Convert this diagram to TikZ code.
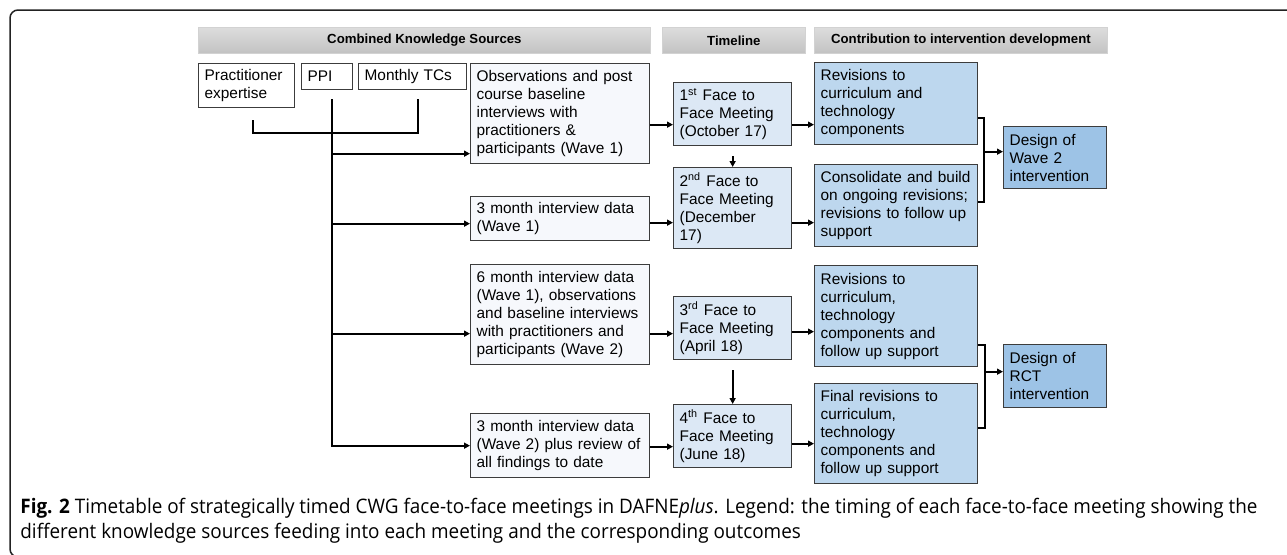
\documentclass[tikz,border=0pt]{standalone}
\usepackage{fontspec}
\setmainfont{Liberation Sans}
\newfontfamily\capfont[FakeStretch=0.945]{Open Sans}
\usepackage{xcolor}
\definecolor{xframe}{HTML}{222222}
\definecolor{xedge}{HTML}{3C3C3C}
\definecolor{xsource}{HTML}{F6F8FC}
\definecolor{xmeet}{HTML}{DCE8F5}
\definecolor{xcontrib}{HTML}{BDD7EE}
\definecolor{xdesign}{HTML}{9DC3E6}
\definecolor{xheadtop}{HTML}{DDDDDD}
\definecolor{xheadbot}{HTML}{C2C2C2}
\usepackage{tikz}
\usetikzlibrary{arrows.meta, positioning}
\tikzset{
  %% Styles %%
  box/.style = {draw=xedge, line width=0.65pt, fill=#1, anchor=north west, align=left,
    inner xsep=3pt, inner ysep=1pt, font=\fontsize{7.7}{9}\selectfont},
  knowbox/.style = {box=white},
  sourcebox/.style = {box=xsource, text width=83.5pt, minimum height=#1},
  meetbox/.style = {box=xmeet, text width=53pt, minimum height=#1},
  contribbox/.style = {box=xcontrib, text width=75.5pt, minimum height=#1},
  designbox/.style = {box=xdesign, text width=45.5pt, minimum height=#1},
  head/.style = {anchor=north west, draw=gray!35, top color=xheadtop, bottom color=xheadbot,
    minimum height=13pt, inner sep=0pt, font=\fontsize{6.6}{8}\selectfont\bfseries},
  frame/.style = {draw=xframe, line width=0.75pt, rounded corners=4pt},
  wire/.style = {line width=1.1pt, black},
  arrow/.style = {wire, -{Triangle[length=3pt, width=3pt]}},
  caption/.style = {anchor=north west, align=left, inner sep=0pt, font=\capfont\fontsize{10}{12.5}\selectfont},
}

\begin{document}
\begin{tikzpicture}[x=0.5pt, y=-0.5pt]
  \useasboundingbox (0,0) rectangle (1287,554);
  % Frame
  \draw[frame] (1300,10) -| (10,557) -- (40,557);

  % Headers
  \node[head, minimum width=226pt] (hks) at (198,27) {Combined Knowledge Sources};
  \node[head, minimum width=71.5pt] (htl) at (662,27) {Timeline};
  \node[head, minimum width=146.5pt] (hcon) at (814,27) {Contribution to intervention development};

  % Knowledge sources
  \node[knowbox, text width=42pt, minimum height=22pt] (prac) at (198,63) {Practitioner\\expertise};
  \node[knowbox, text width=19.5pt, minimum height=13pt] (ppi) at (301,63) {PPI};
  \node[knowbox, text width=48pt, minimum height=13pt] (tcs) at (358,63) {Monthly TCs};

  \node[sourcebox=50pt] (obs) at (470,63) {Observations and post\\course baseline\\interviews with\\practitioners \&\\participants (Wave 1)};
  \node[sourcebox=22pt] (m3a) at (470,196) {3 month interview data\\(Wave 1)};
  \node[sourcebox=50pt] (m6) at (470,264) {6 month interview data\\(Wave 1), observations\\and baseline interviews\\with practitioners and\\participants (Wave 2)};
  \node[sourcebox=32pt] (m3b) at (470,413) {3 month interview data\\(Wave 2) plus review of\\all findings to date};

  % Timeline
  \node[meetbox=31.5pt] (f1) at (673,82) {1\textsuperscript{st} Face to\\Face Meeting\\(October 17)};
  \node[meetbox=40.5pt] (f2) at (673,167) {2\textsuperscript{nd} Face to\\Face Meeting\\(December\\17)};
  \node[meetbox=31.5pt] (f3) at (673,296) {3\textsuperscript{rd} Face to\\Face Meeting\\(April 18)};
  \node[meetbox=31.5pt] (f4) at (673,404) {4\textsuperscript{th} Face to\\Face Meeting\\(June 18)};

  % Contributions
  \node[contribbox=41pt] (r1) at (814,62) {Revisions to\\curriculum and\\technology\\components};
  \node[contribbox=41pt] (r2) at (814,164) {Consolidate and build\\on ongoing revisions;\\revisions to follow up\\support};
  \node[contribbox=50.5pt] (r3) at (814,265) {Revisions to\\curriculum,\\technology\\components and\\follow up support};
  \node[contribbox=50pt] (r4) at (814,383) {Final revisions to\\curriculum,\\technology\\components and\\follow up support};

  \node[designbox=31pt] (dw2) at (1003,126) {Design of\\Wave 2\\intervention};
  \node[designbox=31.5pt] (drct) at (1003,344) {Design of\\RCT\\intervention};

  % Knowledge source wires
  \coordinate (pracend) at ([xshift=3pt, yshift=-6pt]prac.south);
  \coordinate (tcsend) at ([xshift=2.5pt, yshift=-4.5pt]tcs.south);
  \coordinate (ppitop) at ([xshift=2.25pt, yshift=-4.5pt]ppi.south);
  \draw[wire] (pracend) -- ++(0,13) -| (tcsend);
  \draw[arrow] (ppitop) |- (m3b.west);
  \coordinate (obsin) at ([yshift=-20pt]obs.west);
  \coordinate (m3ain) at ([yshift=-2.5pt]m3a.west);
  \coordinate (m6in) at ([yshift=-9.5pt]m6.west);
  \draw[arrow] (ppitop |- obsin) -- (obsin);
  \draw[arrow] (ppitop |- m3ain) -- (m3ain);
  \draw[arrow] (ppitop |- m6in) -- (m6in);

  % Into and out of the meetings
  \draw[arrow] ([yshift=-5.5pt]obs.east) -- ([yshift=-5.5pt]obs.east -| f1.west);
  \draw[arrow] ([yshift=-5.25pt]f1.east) -- ([yshift=-5.25pt]f1.east -| r1.west);
  \draw[arrow] ([yshift=-2pt]m3a.east) -- ([yshift=-2pt]m3a.east -| f2.west);
  \draw[arrow] ([yshift=-7.25pt]f2.east) -- ([yshift=-7.25pt]f2.east -| r2.west);
  \draw[arrow] ([yshift=-9.5pt]m6.east) -- ([yshift=-9.5pt]m6.east -| f3.west);
  \draw[arrow] ([yshift=-1.75pt]f3.east) -- ([yshift=-1.75pt]f3.east -| r3.west);
  \draw[arrow] ([yshift=-0.5pt]m3b.east) -- ([yshift=-0.5pt]m3b.east -| f4.west);
  \draw[arrow] ([yshift=-3.75pt]f4.east) -- ([yshift=-3.75pt]f4.east -| r4.west);
  \draw[arrow] ([yshift=-5pt]f1.south) -- (f2.north);
  \draw[arrow] ([yshift=-5pt]f3.south) -- (f4.north);

  % Brackets to the designs
  \coordinate (b1) at ([xshift=3pt, yshift=-7pt]r1.east);
  \coordinate (dw2in) at ([yshift=3pt]dw2.west);
  \draw[wire] ([yshift=-7pt]r1.east) -- (b1) |- ([yshift=2pt]r2.east);
  \draw[arrow] (b1 |- dw2in) -- (dw2in);
  \coordinate (b2) at ([xshift=3.5pt, yshift=-14.25pt]r3.east);
  \coordinate (drctin) at ([yshift=2.25pt]drct.west);
  \draw[wire] ([yshift=-14.25pt]r3.east) -- (b2) |- ([yshift=3pt]r4.east);
  \draw[arrow] (b2 |- drctin) -- (drctin);

  % Caption
  \node[caption] (cap) at (20,498) {\textbf{Fig. 2} Timetable of strategically timed CWG face-to-face meetings in DAFNE\textit{plus}. Legend: the timing of each face-to-face meeting showing the\\different knowledge sources feeding into each meeting and the corresponding outcomes};
\end{tikzpicture}
\end{document}
